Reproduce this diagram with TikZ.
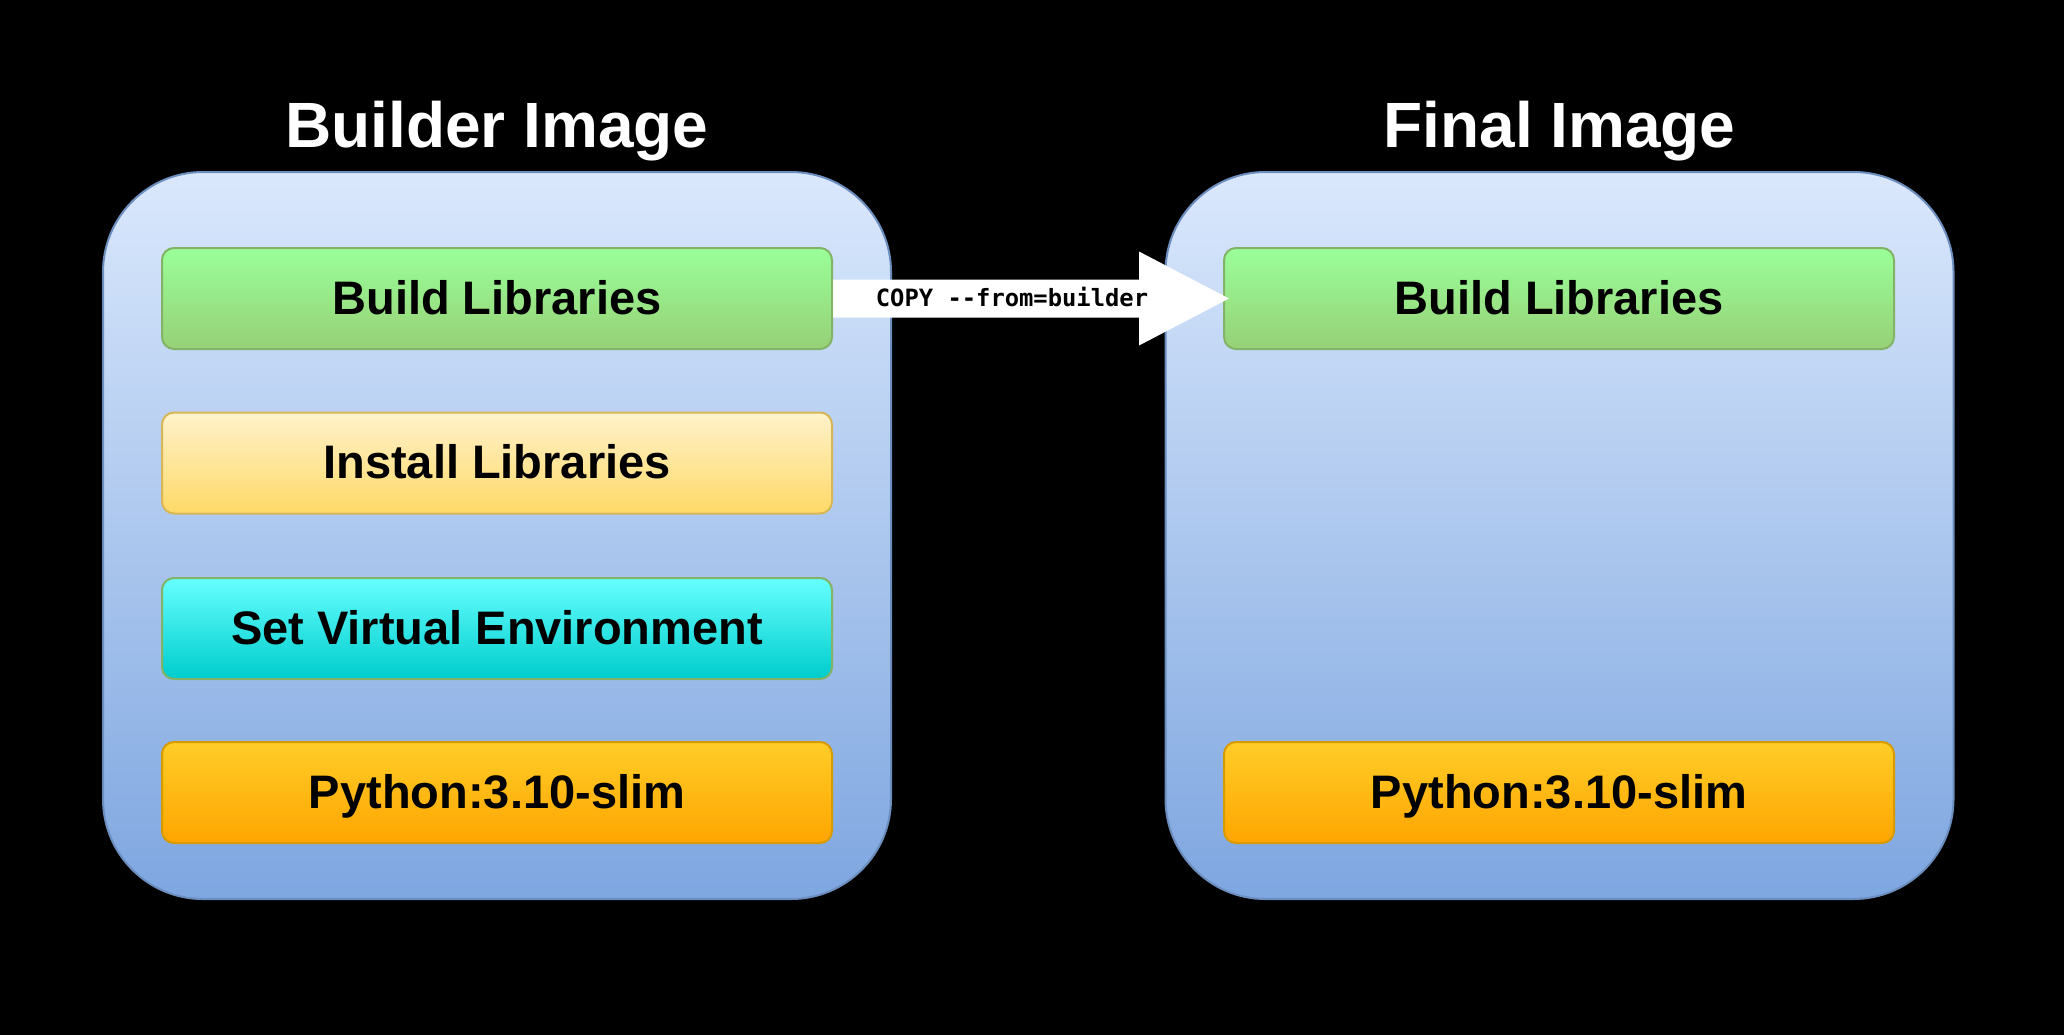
\documentclass[tikz,border=0pt]{standalone}
\usepackage{fontspec}
\setmainfont{Liberation Sans}
\newfontfamily\copymono{DejaVu Sans Mono}
\usetikzlibrary{calc}
\definecolor{outerTop}{HTML}{DAE8FC}
\definecolor{outerBot}{HTML}{7EA6E0}
\definecolor{outerLine}{HTML}{6C8EBF}
\definecolor{grnTop}{HTML}{99FF99}
\definecolor{grnBot}{HTML}{97D077}
\definecolor{grnLine}{HTML}{82B366}
\definecolor{ylwTop}{HTML}{FFF2CC}
\definecolor{ylwBot}{HTML}{FFD966}
\definecolor{ylwLine}{HTML}{D6B656}
\definecolor{cyTop}{HTML}{66FFFF}
\definecolor{cyBot}{HTML}{00CCCC}
\definecolor{orTop}{HTML}{FFCD28}
\definecolor{orBot}{HTML}{FFA500}
\definecolor{orLine}{HTML}{D79B00}
\tikzset{
  outerbox/.style={draw=outerLine, line width=1pt, rounded corners=50pt,
    top color=outerTop, bottom color=outerBot,
    minimum width=394pt, minimum height=363.5pt, inner sep=0pt},
  titletext/.style={text=white, font=\fontsize{32pt}{38pt}\selectfont\bfseries, inner sep=0pt, anchor=base},
  layerbox/.style={line width=1pt, rounded corners=6pt,
    minimum width=335pt, minimum height=50.5pt, inner sep=0pt,
    text height=15.5pt, text depth=0pt,
    font=\fontsize{23.5pt}{28pt}\selectfont\bfseries, text=black},
  greenbox/.style={layerbox, draw=grnLine, top color=grnTop, bottom color=grnBot},
  yellowbox/.style={layerbox, draw=ylwLine, top color=ylwTop, bottom color=ylwBot},
  cyanbox/.style={layerbox, draw=grnLine, top color=cyTop, bottom color=cyBot},
  orangebox/.style={layerbox, draw=orLine, top color=orTop, bottom color=orBot},
  copylabel/.style={font=\copymono\bfseries\fontsize{11.9pt}{14pt}\selectfont, text=black, inner sep=0pt}
}
\begin{document}
\begin{tikzpicture}[x=0.5pt,y=-0.5pt]
\useasboundingbox (0,0) rectangle (2064,1034);
\fill[black] (-20,-20) rectangle (2084,1054);

% outer containers
\node[outerbox] (bimg) at (497,535.5) {};
\node[outerbox] (fimg) at (1559.5,535.5) {};

% titles
\node[titletext] (btitle) at (497,147) {Builder Image};
\node[titletext] (ftitle) at (1559.5,147) {Final Image};

% builder layers
\node[greenbox]  (b1) at (497,298.5) {Build Libraries};
\node[yellowbox] (b2) at (497,463) {Install Libraries};
\node[cyanbox]   (b3) at (497,628.5) {Set Virtual Environment};
\node[orangebox] (b4) at (497,792.5) {Python:3.10-slim};

% final layers
\node[greenbox]  (f1) at (1559,298.5) {Build Libraries};
\node[orangebox] (f4) at (1559,792.5) {Python:3.10-slim};

% copy arrow
\fill[white] ($(b1.east)+(0,-19)$) -- ($(b1.east)+(306,-19)$) -- ($(b1.east)+(306,-47)$)
  -- ($(f1.west)+(6,0)$) -- ($(b1.east)+(306,47)$) -- ($(b1.east)+(306,19)$)
  -- ($(b1.east)+(0,19)$) -- cycle;
\node[copylabel] (copylbl) at ($(b1.east)+(179,-1.5)$) {COPY --from=builder};
\end{tikzpicture}
\end{document}
